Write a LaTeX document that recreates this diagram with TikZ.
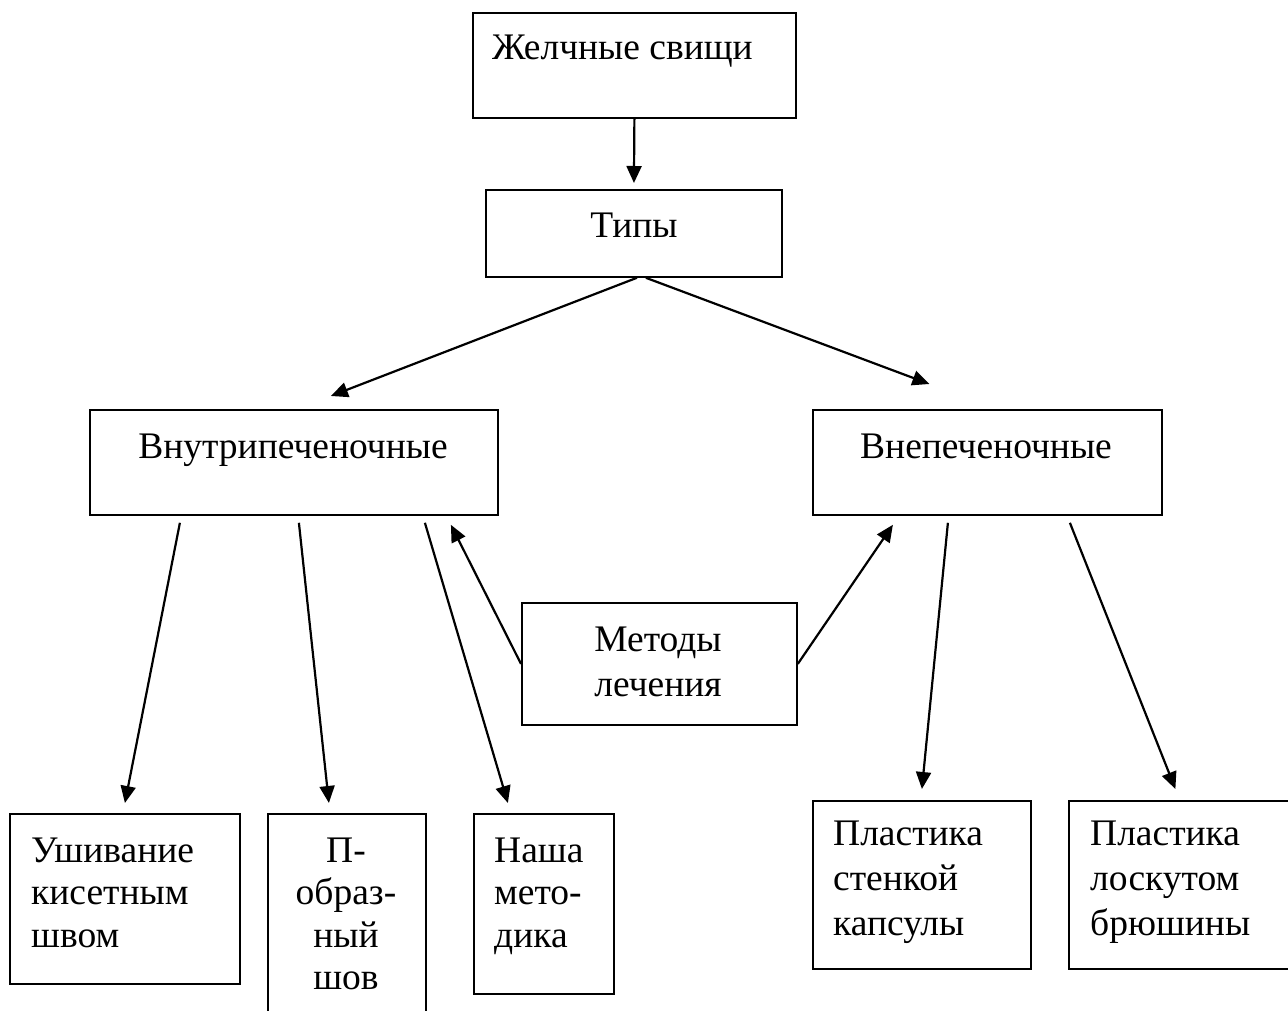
\documentclass[tikz,border=0pt]{standalone}
\usepackage{fontspec}
\setmainfont{Liberation Serif}
\usetikzlibrary{arrows.meta}

\begin{document}
\begin{tikzpicture}[x=1pt, y=-1pt]
\tikzstyle{box}=[rectangle, draw=black, line width=1.8pt, anchor=north west, inner sep=0pt]
\tikzstyle{label text}=[inner sep=0pt, anchor=base, font=\fontsize{37.5}{44}\selectfont]
\tikzstyle{left text}=[label text, anchor=base west]
\tikzstyle{arrline}=[-{Triangle[length=17pt, width=15pt]}, line width=2.2pt]

\clip (0,0) rectangle (1288,1011);

% Top of the scheme
\node[box, minimum width=323pt, minimum height=105pt] (zhel) at (472,12) {};
\node[left text] (zhelText) at (492,60) {Желчные свищи};
\node[box, minimum width=296pt, minimum height=87pt] (tipy) at (485,189) {};
\node[label text] (tipyText) at (634,238) {Типы};

% Two kinds
\node[box, minimum width=408pt, minimum height=105pt] (vnutri) at (89,409) {};
\node[label text] (vnutriText) at (293,458) {Внутрипеченочные};
\node[box, minimum width=349pt, minimum height=105pt] (vnepech) at (812,409) {};
\node[label text] (vnepechText) at (986,458) {Внепеченочные};

\node[box, minimum width=275pt, minimum height=122pt] (metody) at (521,602) {};
\node[label text] (metodyA) at (658,651) {Методы};
\node[label text] (metodyB) at (658,696) {лечения};

% Bottom row
\node[box, minimum width=230pt, minimum height=170pt] (ushiv) at (9,813) {};
\node[box, minimum width=158pt, minimum height=210pt] (pobr) at (267,813) {};
\node[box, minimum width=140pt, minimum height=180pt] (nasha) at (473,813) {};
\node[box, minimum width=218pt, minimum height=168pt] (plastA) at (812,800) {};
\node[box, minimum width=227pt, minimum height=168pt] (plastB) at (1068,800) {};

\foreach \t [count=\i] in {Ушивание, кисетным, швом}
    \node[left text] (ushiv\i) at (31, {862 + 42.5*(\i-1)}) {\t};
\foreach \t [count=\i] in {П-, образ-, ный, шов}
    \node[label text] (pobr\i) at (346, {862 + 42.5*(\i-1)}) {\t};
\foreach \t [count=\i] in {Наша, мето-, дика}
    \node[left text] (nasha\i) at (494, {862 + 42.5*(\i-1)}) {\t};
\foreach \t [count=\i] in {Пластика, стенкой, капсулы}
    \node[left text] (plastA\i) at (833, {845 + 45*(\i-1)}) {\t};
\foreach \t [count=\i] in {Пластика, лоскутом, брюшины}
    \node[left text] (plastB\i) at (1090, {845 + 45*(\i-1)}) {\t};

% Arrows
\draw[arrline, shorten >=6pt] (zhel.south) -- (tipy.north);
\draw[arrline] ([xshift=3pt]tipy.south) -- ([xshift=37pt, yshift=13pt]vnutri.north);
\draw[arrline] ([xshift=12pt]tipy.south) -- ([xshift=-58pt, yshift=25pt]vnepech.north);

\draw[arrline] ([xshift=-114pt, yshift=-7pt]vnutri.south) -- ([yshift=10pt]ushiv.north);
\draw[arrline] ([xshift=5pt, yshift=-7pt]vnutri.south) -- ([xshift=-18pt, yshift=10pt]pobr.north);
\draw[arrline] ([xshift=131pt, yshift=-7pt]vnutri.south) -- ([xshift=-36pt, yshift=10pt]nasha.north);

\draw[arrline] (metody.west) -- ([xshift=157pt, yshift=-9pt]vnutri.south);
\draw[arrline] (metody.east) -- ([xshift=-94.5pt, yshift=-9pt]vnepech.south);

\draw[arrline] ([xshift=-39.5pt, yshift=-7pt]vnepech.south) -- ([yshift=11pt]plastA.north);
\draw[arrline] ([xshift=82.5pt, yshift=-7pt]vnepech.south) -- ([xshift=-7pt, yshift=11pt]plastB.north);

\end{tikzpicture}
\end{document}
